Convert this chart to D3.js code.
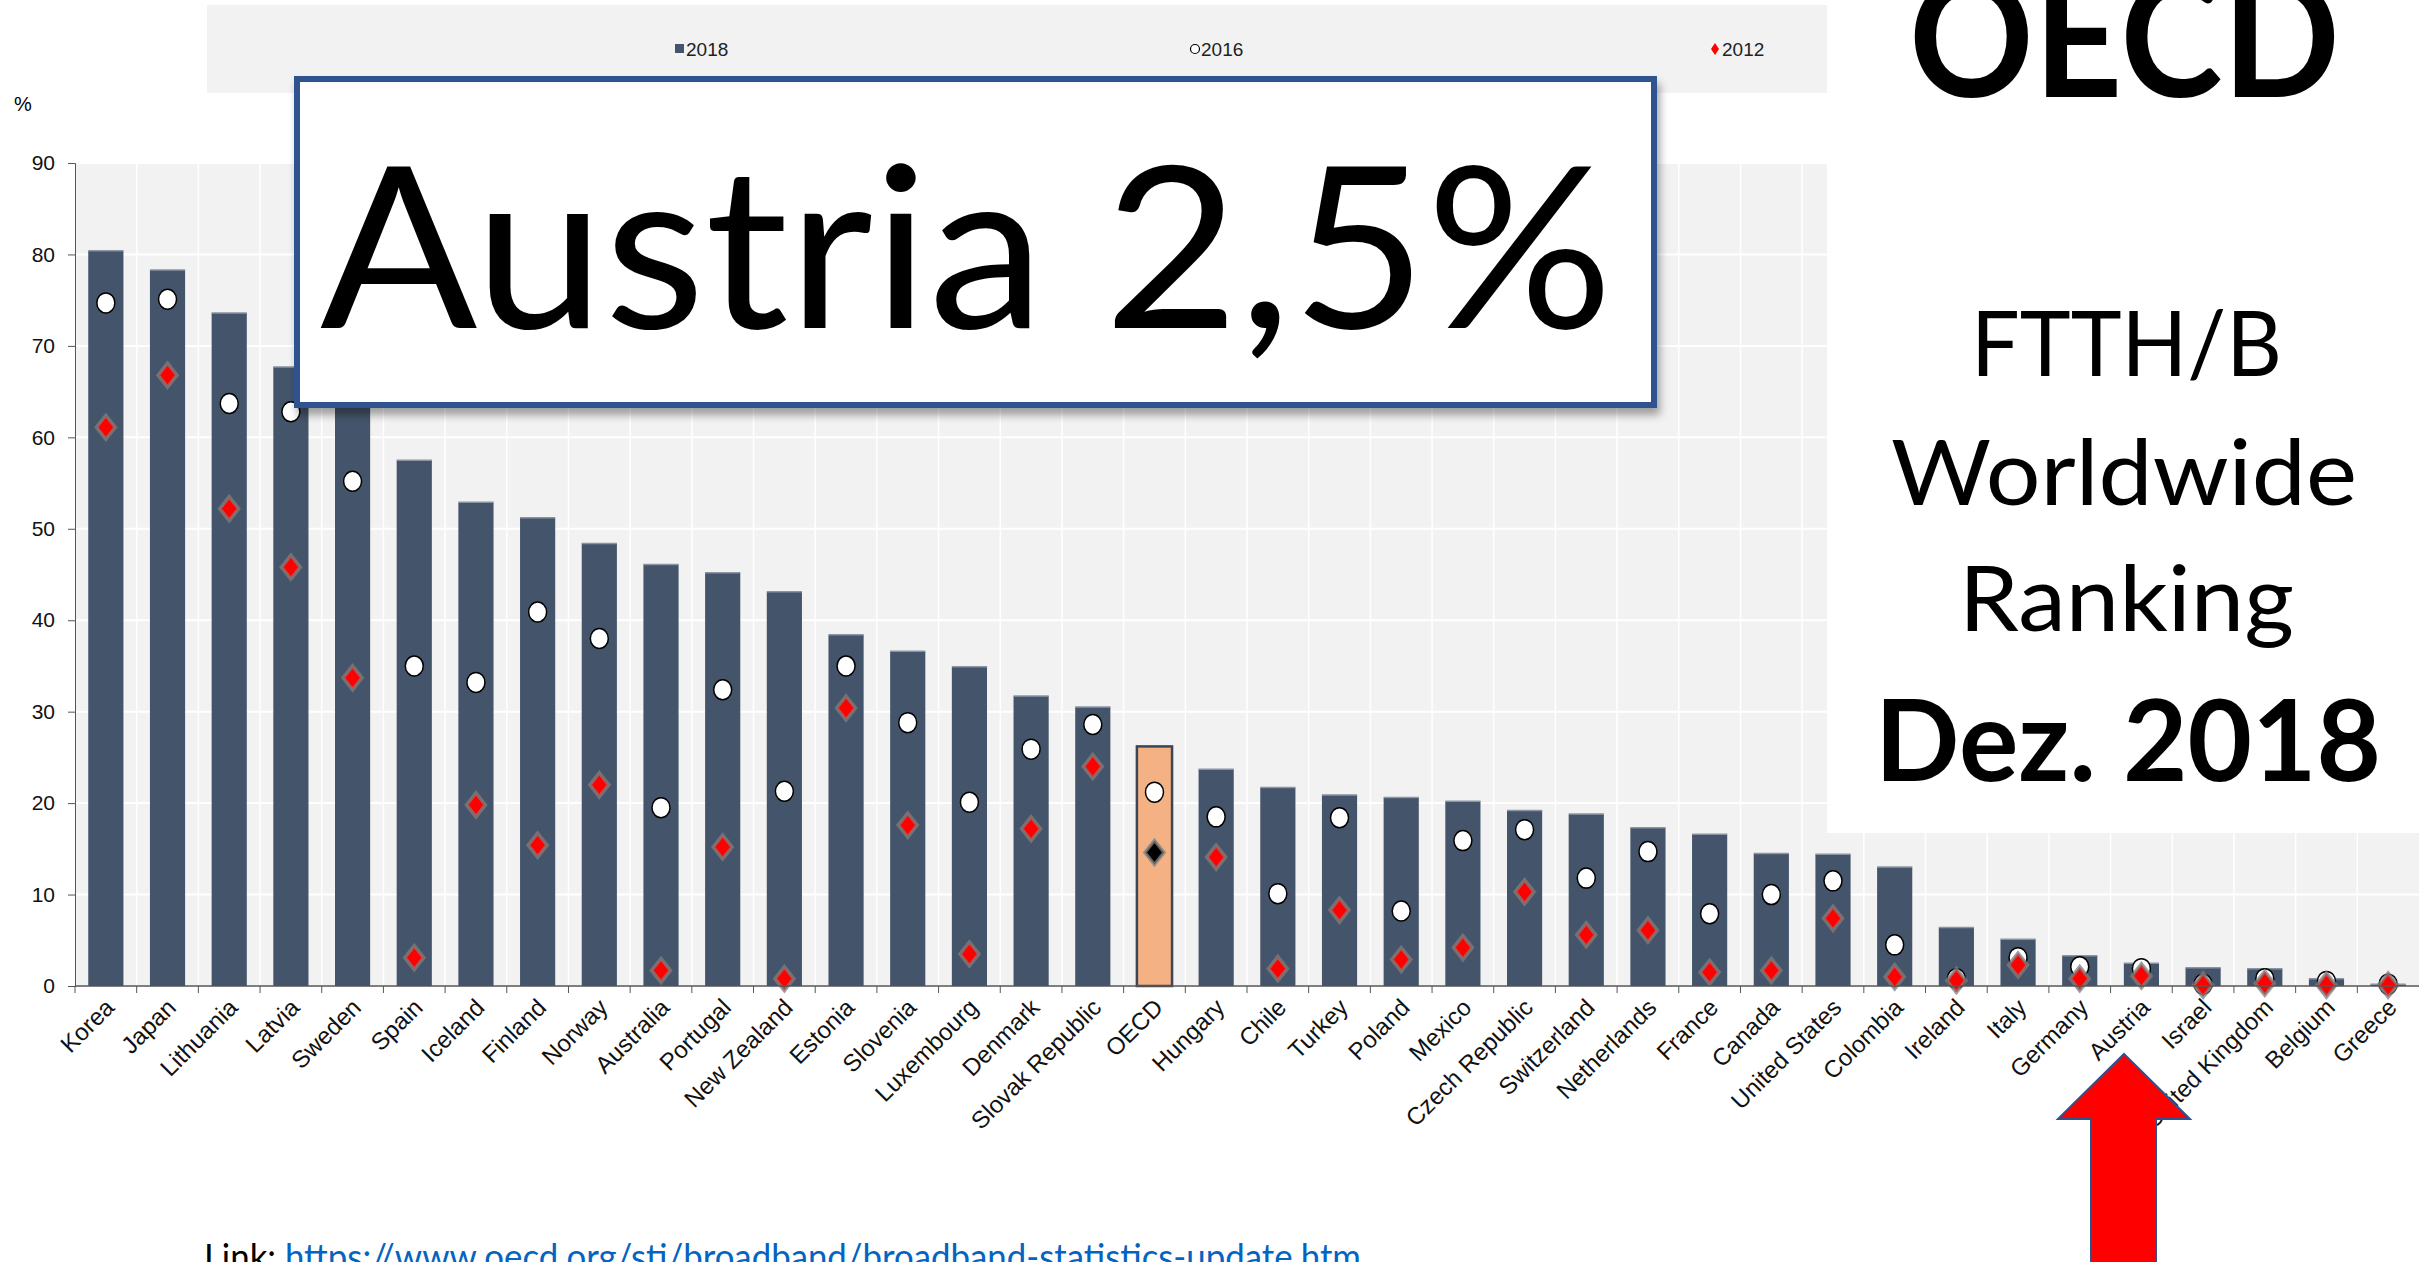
<!DOCTYPE html>
<html>
<head>
<meta charset="utf-8">
<script src="https://cdn.jsdelivr.net/npm/d3@7"></script>
<style>
body { margin: 0; background: #fff; }
text { font-family: "Liberation Sans", Arial, sans-serif; }
.big { font-family: Lato, "Open Sans", sans-serif; }
</style>
</head>
<body>
<div class="chart"></div>
<script>
var countries = ['Korea', 'Japan', 'Lithuania', 'Latvia', 'Sweden', 'Spain', 'Iceland', 'Finland', 'Norway',
	'Australia', 'Portugal', 'New Zealand', 'Estonia', 'Slovenia', 'Luxembourg', 'Denmark', 'Slovak Republic',
	'OECD', 'Hungary', 'Chile', 'Turkey', 'Poland', 'Mexico', 'Czech Republic', 'Switzerland', 'Netherlands',
	'France', 'Canada', 'United States', 'Colombia', 'Ireland', 'Italy', 'Germany', 'Austria', 'Israel',
	'United Kingdom', 'Belgium', 'Greece'];

var v2018 = [80.4, 78.3, 73.6, 67.7, 64.4, 57.5, 52.9, 51.2, 48.4, 46.1, 45.2, 43.1, 38.4, 36.6, 34.9, 31.7, 30.5,
	26.2, 23.7, 21.7, 20.9, 20.6, 20.2, 19.2, 18.8, 17.3, 16.6, 14.5, 14.4, 13.0, 6.4, 5.1, 3.3, 2.5, 2.0, 1.9, 0.8, 0.2];

var v2016 = [74.7, 75.1, 63.7, 62.8, 55.2, 35.0, 33.2, 40.9, 38.0, 19.5, 32.4, 21.3, 35.0, 28.8, 20.1, 25.9, 28.6,
	21.2, 18.5, 10.1, 18.4, 8.2, 15.9, 17.1, 11.8, 14.7, 7.9, 10.0, 11.5, 4.5, 0.8, 3.1, 2.1, 1.9, 0.2, 0.8, 0.5, 0.2];

var v2012 = [61.1, 66.8, 52.2, 45.8, 33.7, 3.1, 19.8, 15.4, 22.0, 1.7, 15.2, 0.8, 30.4, 17.6, 3.5, 17.2, 24.0,
	14.6, 14.1, 1.9, 8.3, 2.9, 4.2, 10.3, 5.6, 6.1, 1.5, 1.7, 7.4, 1.0, 0.6, 2.3, 0.8, 1.1, 0.1, 0.3, 0.1, 0.1];

var yTicks = [0, 10, 20, 30, 40, 50, 60, 70, 80, 90];
var legendLabels = ['2018', '2016', '2012'];
var highlight = 'OECD';

var margin = {top: 163, right: 13, bottom: 276, left: 75};
var width = 2432 - margin.left - margin.right;
var height = 1262 - margin.top - margin.bottom;

var root = d3.select('.chart')
	.append('svg')
		.attr('width', 2432)
		.attr('height', 1262);

var defs = root.append('defs');
defs.append('filter')
		.attr('id', 'shadow')
		.attr('x', '-5%').attr('y', '-5%').attr('width', '110%').attr('height', '120%')
	.append('feDropShadow')
		.attr('dx', 3).attr('dy', 7).attr('stdDeviation', 4)
		.attr('flood-color', '#000').attr('flood-opacity', 0.35);

// legend strip
root.append('rect')
	.attr('x', 207).attr('y', 5).attr('width', 1620).attr('height', 88)
	.style('fill', '#f2f2f2');

var legend = root.append('g').attr('font-size', 19).attr('fill', '#222');
legend.append('rect').attr('x', 675).attr('y', 44).attr('width', 9).attr('height', 9).style('fill', '#44546a');
legend.append('circle').attr('cx', 1195).attr('cy', 49).attr('r', 4.5)
	.style('fill', '#fff').style('stroke', '#000').style('stroke-width', 1.2);
legend.append('path').attr('d', 'M1715,43L1719,49L1715,55L1711,49Z').style('fill', '#f00');
[686, 1201, 1722].forEach(function(x, i) {
	legend.append('text').attr('x', x).attr('y', 56).text(legendLabels[i]);
});

var svg = root.append('g')
	.attr('transform', `translate(${margin.left}, ${margin.top})`);

var xScale = d3.scaleBand()
	.domain(countries)
	.range([0, width])
	.paddingInner(0.43)
	.paddingOuter(0.215);

var yScale = d3.scaleLinear()
	.domain([0, 90])
	.range([height, 0]);

var step = xScale.step();
var cx = d => xScale(d) + xScale.bandwidth() / 2;
var edge = d => xScale(d) - step * 0.215;

svg.append('rect')
	.attr('width', width)
	.attr('height', height)
	.style('fill', '#f2f2f2');

svg.selectAll('.hgrid')
	.data(yTicks)
	.enter()
	.append('line')
		.attr('x1', 0).attr('x2', width)
		.attr('y1', d => yScale(d)).attr('y2', d => yScale(d))
		.style('stroke', '#fff').style('stroke-width', 2);

svg.selectAll('.vgrid')
	.data(countries.slice(1))
	.enter()
	.append('line')
		.attr('x1', d => edge(d)).attr('x2', d => edge(d))
		.attr('y1', 0).attr('y2', height)
		.style('stroke', '#fff').style('stroke-width', 1.5);

var rows = countries.map((c, i) => ({country: c, a: v2018[i], b: v2016[i], c: v2012[i]}));

svg.selectAll('.bar')
	.data(rows)
	.enter()
	.append('rect')
		.attr('x', d => xScale(d.country))
		.attr('y', d => yScale(d.a))
		.attr('width', xScale.bandwidth())
		.attr('height', d => height - yScale(d.a))
		.style('fill', d => d.country == highlight ? '#f4b183' : '#44546a')
		.style('stroke', d => d.country == highlight ? '#3a4658' : 'none')
		.style('stroke-width', 2.5);

// thin grey cap on top of each bar
svg.selectAll('.cap')
	.data(rows.filter(d => d.country != highlight))
	.enter()
	.append('line')
		.attr('x1', d => xScale(d.country)).attr('x2', d => xScale(d.country) + xScale.bandwidth())
		.attr('y1', d => yScale(d.a)).attr('y2', d => yScale(d.a))
		.style('stroke', '#8a94a3').style('stroke-width', 1.5);

svg.selectAll('.dot')
	.data(rows)
	.enter()
	.append('ellipse')
		.attr('cx', d => cx(d.country))
		.attr('cy', d => yScale(d.b))
		.attr('rx', 9).attr('ry', 10)
		.style('fill', '#fff').style('stroke', '#000').style('stroke-width', 1.5);

svg.selectAll('.diamond')
	.data(rows)
	.enter()
	.append('path')
		.attr('transform', d => `translate(${cx(d.country)}, ${yScale(d.c)})`)
		.attr('d', 'M0,-12L9.5,0L0,12L-9.5,0Z')
		.style('fill', d => d.country == highlight ? '#000' : '#f00')
		.style('stroke', '#7f7f7f').style('stroke-opacity', 0.75).style('stroke-width', 3.5);

var yAxis = d3.axisLeft(yScale).tickValues(yTicks).tickSize(7).tickPadding(13);
svg.append('g')
	.call(yAxis)
	.call(g => g.selectAll('text').attr('font-size', 21).attr('fill', '#111'))
	.call(g => g.selectAll('line, path').attr('stroke', '#555'));

root.append('text').attr('x', 14).attr('y', 111).attr('font-size', 20).text('%');

// x axis
var xa = svg.append('g').attr('transform', `translate(0, ${height})`);
xa.append('line').attr('x1', 0).attr('x2', width).style('stroke', '#555').style('stroke-width', 1.5);
xa.selectAll('.tick')
	.data(countries)
	.enter()
	.append('line')
		.attr('x1', d => edge(d)).attr('x2', d => edge(d))
		.attr('y1', 0).attr('y2', 7)
		.style('stroke', '#555');
xa.selectAll('.lab')
	.data(countries)
	.enter()
	.append('text')
		.attr('transform', d => `translate(${cx(d) + 4}, 17) rotate(-45)`)
		.attr('text-anchor', 'end')
		.attr('dy', '0.35em')
		.attr('font-size', 24)
		.attr('fill', '#111')
		.text(d => d);

// big overlay box
root.append('rect')
	.attr('x', 297).attr('y', 79).attr('width', 1357).attr('height', 326)
	.attr('filter', 'url(#shadow)')
	.style('fill', '#fff').style('stroke', '#2f528f').style('stroke-width', 6);
root.append('text').attr('class', 'big')
	.attr('x', 320).attr('y', 328)
	.attr('font-size', 226)
	.attr('textLength', 1293).attr('lengthAdjust', 'spacingAndGlyphs')
	.text('Austria 2,5%');

// right panel
root.append('rect').attr('x', 1827).attr('y', 0).attr('width', 605).attr('height', 833).style('fill', '#fff');
var panel = [
	{t: 'OECD', x: 1909, y: 97, s: 167, w: 431, b: true},
	{t: 'FTTH/B', x: 1971, y: 376, s: 92, w: 311, b: false},
	{t: 'Worldwide', x: 1891, y: 505, s: 92, w: 466, b: false},
	{t: 'Ranking', x: 1959, y: 631, s: 92, w: 335, b: false},
	{t: 'Dez. 2018', x: 1875, y: 781, s: 113, w: 506, b: true}
];
panel.forEach(function(p) {
	root.append('text').attr('class', 'big')
		.attr('x', p.x).attr('y', p.y)
		.attr('font-size', p.s)
		.attr('font-weight', p.b ? 'bold' : 'normal')
		.attr('textLength', p.w).attr('lengthAdjust', 'spacingAndGlyphs')
		.text(p.t);
});

// red arrow
root.append('path')
	.attr('d', 'M2124,1054L2190,1119L2156,1119L2156,1275L2091,1275L2091,1119L2058,1119Z')
	.style('fill', '#f00').style('stroke', '#2f528f').style('stroke-width', 2);

// link line, cut at the bottom
var link = root.append('text').attr('class', 'big')
	.attr('x', 204).attr('y', 1270)
	.attr('font-size', 36)
	.attr('textLength', 1157).attr('lengthAdjust', 'spacingAndGlyphs');
link.append('tspan').text('Link: ');
link.append('tspan').attr('fill', '#0563c1').attr('text-decoration', 'underline')
	.text('https://www.oecd.org/sti/broadband/broadband-statistics-update.htm');
</script>
</body>
</html>
